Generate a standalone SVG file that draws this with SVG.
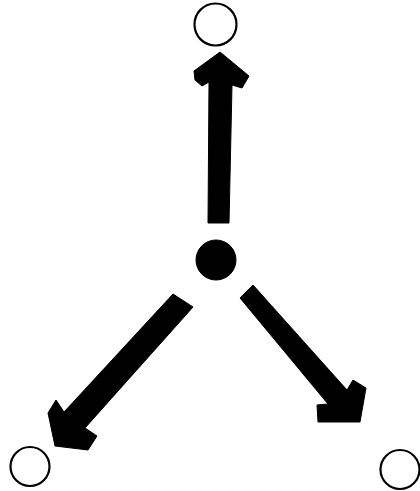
<svg xmlns="http://www.w3.org/2000/svg" width="420" height="491" viewBox="0 0 420 491">
  <style>
    .hollow { fill: #ffffff; stroke: #000000; stroke-width: 2.2; }
    .solid { fill: #000000; stroke: #000000; stroke-width: 1; }
    .arrow { fill: #000000; stroke: #000000; stroke-width: 1; stroke-linejoin: round; }
  </style>
  <rect x="0" y="0" width="420" height="491" fill="#ffffff"/>
  <g id="connectors">
    <polygon class="arrow" points="208,223 209,82 202,86 195,80 194,71 220,52 249,76 242,88 232,85 229,223"/>
    <polygon class="arrow" points="173,294 193,307 85,428 97,436 88,450 55,446 48,413 56,400 64,412"/>
    <polygon class="arrow" points="240,298 253,285 347,390 353,380 366,388 360,422 318,422 317,405 328,404"/>
  </g>
  <g id="node-center">
    <circle class="solid" cx="216" cy="260" r="20"/>
  </g>
  <g id="node-top">
    <circle class="hollow" cx="215.5" cy="24.5" r="21"/>
  </g>
  <g id="node-bottom-left">
    <circle class="hollow" cx="30" cy="466.5" r="19.5"/>
  </g>
  <g id="node-bottom-right">
    <circle class="hollow" cx="400" cy="469.5" r="19.5"/>
  </g>
</svg>
